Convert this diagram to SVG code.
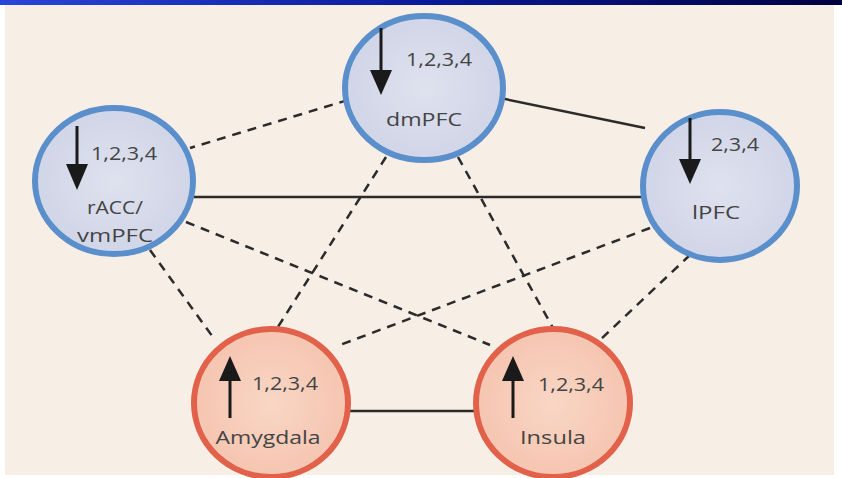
<svg xmlns="http://www.w3.org/2000/svg" width="842" height="478" viewBox="0 0 842 478">
<defs>
<linearGradient id="band" x1="0" y1="0" x2="1" y2="0">
<stop offset="0" stop-color="#2a46d8"/>
<stop offset="0.5" stop-color="#0a1a9a"/>
<stop offset="1" stop-color="#000040"/>
</linearGradient>
<radialGradient id="blueFill" cx="0.5" cy="0.5" r="0.6">
<stop offset="0" stop-color="#dfe1ee"/>
<stop offset="1" stop-color="#cdd3e6"/>
</radialGradient>
<radialGradient id="redFill" cx="0.5" cy="0.5" r="0.6">
<stop offset="0" stop-color="#f9d6c5"/>
<stop offset="1" stop-color="#f4c2ac"/>
</radialGradient>
</defs>
<style>
.blue{fill:url(#blueFill);stroke:#5b8fcb;stroke-width:6}
.red{fill:url(#redFill);stroke:#e2614b;stroke-width:6}
.solid{stroke:#2b2b2b;stroke-width:2.5;fill:none}
.dash{stroke:#2b2b2b;stroke-width:2.5;fill:none;stroke-dasharray:9 7}
.arr{stroke:#1a1a1a;stroke-width:3}
.head{fill:#1a1a1a}
.num{font-family:"Open Sans","Noto Sans",sans-serif;font-size:18px;fill:#444}
.lab{font-family:"Open Sans","Noto Sans",sans-serif;font-size:19px;fill:#444;text-anchor:middle}
</style>
<rect x="0" y="0" width="842" height="478" fill="#ffffff"/>
<rect x="5" y="5" width="829" height="470" fill="#f7efe6"/>
<rect x="0" y="0" width="842" height="5" fill="url(#band)"/>
<g id="connectors">
<line class="solid" x1="500" y1="98" x2="645" y2="128"/>
<line class="solid" x1="192" y1="197" x2="642" y2="197"/>
<line class="solid" x1="347" y1="411" x2="477" y2="411"/>
<line class="dash" x1="348" y1="100" x2="190" y2="148"/>
<line class="dash" x1="386" y1="157" x2="276" y2="330"/>
<line class="dash" x1="458" y1="157" x2="553" y2="328"/>
<line class="dash" x1="150" y1="250" x2="215" y2="340"/>
<line class="dash" x1="186" y1="222" x2="490" y2="345"/>
<line class="dash" x1="650" y1="228" x2="340" y2="345"/>
<line class="dash" x1="690" y1="255" x2="600" y2="340"/>
</g>
<g id="dmPFC">
<ellipse class="blue" cx="424" cy="88" rx="79" ry="72"/>
<line class="arr" x1="381" y1="28" x2="381" y2="76"/>
<polygon class="head" points="370,70 392,70 381,95"/>
<text class="num" x="406" y="66" textLength="66" lengthAdjust="spacingAndGlyphs">1,2,3,4</text>
<text class="lab" x="424" y="126" textLength="76" lengthAdjust="spacingAndGlyphs">dmPFC</text>
</g>
<g id="rACC">
<ellipse class="blue" cx="114" cy="181" rx="79" ry="73"/>
<line class="arr" x1="77" y1="126" x2="77" y2="170"/>
<polygon class="head" points="66,164 88,164 77,190"/>
<text class="num" x="91" y="160" textLength="66" lengthAdjust="spacingAndGlyphs">1,2,3,4</text>
<text class="lab" x="115" y="214" textLength="56" lengthAdjust="spacingAndGlyphs">rACC/</text>
<text class="lab" x="115" y="242" textLength="76" lengthAdjust="spacingAndGlyphs">vmPFC</text>
</g>
<g id="lPFC">
<ellipse class="blue" cx="720" cy="186" rx="77" ry="74"/>
<line class="arr" x1="690" y1="118" x2="690" y2="165"/>
<polygon class="head" points="679,159 701,159 690,184"/>
<text class="num" x="711" y="151" textLength="48" lengthAdjust="spacingAndGlyphs">2,3,4</text>
<text class="lab" x="716" y="219" textLength="48" lengthAdjust="spacingAndGlyphs">lPFC</text>
</g>
<g id="Amygdala">
<ellipse class="red" cx="271" cy="403" rx="77" ry="74"/>
<line class="arr" x1="230" y1="418" x2="230" y2="375"/>
<polygon class="head" points="219,381 241,381 230,356"/>
<text class="num" x="252" y="390" textLength="66" lengthAdjust="spacingAndGlyphs">1,2,3,4</text>
<text class="lab" x="268" y="444" textLength="105" lengthAdjust="spacingAndGlyphs">Amygdala</text>
</g>
<g id="Insula">
<ellipse class="red" cx="553" cy="403" rx="77" ry="74"/>
<line class="arr" x1="513" y1="418" x2="513" y2="375"/>
<polygon class="head" points="502,381 524,381 513,356"/>
<text class="num" x="538" y="391" textLength="66" lengthAdjust="spacingAndGlyphs">1,2,3,4</text>
<text class="lab" x="553" y="444" textLength="66" lengthAdjust="spacingAndGlyphs">Insula</text>
</g>
</svg>
